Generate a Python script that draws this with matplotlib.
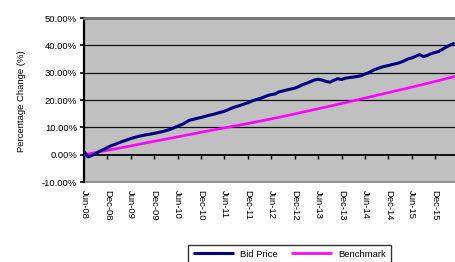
import matplotlib
matplotlib.use("Agg")
import matplotlib.pyplot as plt
import numpy as np

plt.rcParams['font.family'] = ['Liberation Sans', 'DejaVu Sans']

# monthly bid price change (%), Jun-08 = month 0
bid_price = [1.2, -0.8, -0.3, 0.4, 1.2, 1.9, 2.6, 3.3, 3.8, 4.4, 4.9, 5.4,
             5.9, 6.3, 6.7, 7.0, 7.3, 7.5, 7.8, 8.1, 8.4, 8.8, 9.2, 9.8,
             10.4, 11.0, 11.7, 12.6, 12.9, 13.3, 13.6, 14.0, 14.4, 14.7, 15.1, 15.5,
             15.9, 16.5, 17.1, 17.6, 18.0, 18.5, 19.0, 19.6, 20.1, 20.5, 21.0, 21.6,
             22.0, 22.2, 23.0, 23.3, 23.7, 24.0, 24.3, 24.9, 25.6, 26.1, 26.7, 27.3,
             27.6, 27.3, 26.8, 26.5, 27.2, 27.8, 27.5, 28.0, 28.2, 28.4, 28.6, 28.9,
             29.5, 30.0, 30.8, 31.4, 31.9, 32.3, 32.6, 33.0, 33.3, 33.7, 34.3, 35.0,
             35.4, 36.0, 36.6, 35.9, 36.3, 37.0, 37.4, 37.8, 38.7, 39.5, 40.2, 40.8]

# benchmark at half-year points plus last month
bench_months = [0, 6, 12, 18, 24, 30, 36, 42, 48, 54, 60, 66, 72, 78, 84, 90, 95]
benchmark = [0, 1.6, 3.2, 4.9, 6.5, 8.2, 9.8, 11.4, 13.1, 14.9, 16.8, 18.7,
             20.7, 22.7, 24.7, 26.8, 28.6]

tick_labels = ['Jun-08', 'Dec-08', 'Jun-09', 'Dec-09', 'Jun-10', 'Dec-10',
               'Jun-11', 'Dec-11', 'Jun-12', 'Dec-12', 'Jun-13', 'Dec-13',
               'Jun-14', 'Dec-14', 'Jun-15', 'Dec-15', 'Jun-16']

W, H = 456, 262
fs = 6.8
fig = plt.figure(figsize=(W / 100, H / 100), dpi=100)
ax = fig.add_axes([84 / W, 1 - 182 / H, 374.6 / W, 164 / H])
ax.set_facecolor('#c0c0c0')

months = np.arange(len(bid_price))
ax.plot(months, bid_price, color='#000080', lw=2.2, solid_capstyle='butt',
        label='Bid Price', zorder=4)
ax.plot(bench_months, benchmark, color='#ff00ff', lw=1.9, solid_capstyle='butt',
        label='Benchmark', zorder=3)

ax.set_xlim(0, 96)
ax.set_ylim(-10, 50)
yt = [-10, 0, 10, 20, 30, 40, 50]
ax.set_yticks(yt)
ax.set_yticklabels(['%.2f%%' % v for v in yt], fontsize=fs)
for v in [10, 20, 30, 40]:
    ax.axhline(v, color='#111111', lw=0.9, zorder=1)

# zero line carries the tick marks
ax.spines['bottom'].set_position(('data', 0))
ax.spines['bottom'].set_linewidth(1.3)
ax.set_xticks(range(0, 97, 6))
ax.tick_params(axis='x', direction='out', length=3, width=1, labelbottom=False)
ax.tick_params(axis='y', direction='out', length=3, width=1.2, pad=2)

sec = ax.secondary_xaxis('bottom')
sec.set_xticks(range(0, 97, 6))
sec.set_xticklabels(tick_labels, rotation=-90, fontsize=fs)
sec.tick_params(length=0, pad=6)
sec.spines['bottom'].set_color('#808080')
sec.spines['bottom'].set_linewidth(1.2)

ax.spines['left'].set_linewidth(1.6)
ax.spines['top'].set_color('#707070')
ax.spines['top'].set_linewidth(2)
ax.spines['right'].set_visible(False)

fig.text(22 / W, 1 - 101 / H, 'Percentage Change (%)', rotation=90,
         ha='center', va='center', fontsize=fs)

leg = fig.legend(loc='upper left', bbox_to_anchor=(188 / W, 1 - 245 / H),
                 ncol=2, fontsize=fs, frameon=True, fancybox=False,
                 handlelength=4.4, handletextpad=0.6, columnspacing=1.4,
                 borderpad=0.5, borderaxespad=0)
leg.get_frame().set_edgecolor('black')
leg.get_frame().set_linewidth(1)

fig.savefig('out.png', dpi=100)
